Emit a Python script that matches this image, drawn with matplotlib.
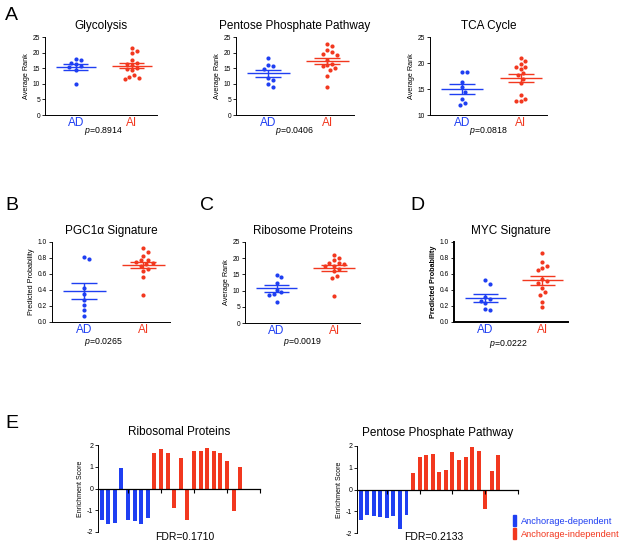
import matplotlib
matplotlib.use("Agg")
import matplotlib.pyplot as plt
import numpy as np
from matplotlib.patches import Rectangle

plt.rcParams.update({
    "font.family": ["Liberation Sans", "DejaVu Sans"],
    "axes.unicode_minus": False,
    "mathtext.fontset": "custom",
    "mathtext.it": "Liberation Sans:italic",
    "mathtext.rm": "Liberation Sans",
})

BLUE = '#1f3ff2'
RED = '#f2381f'

# Panel A: average rank per group (AD = anchorage-dependent, AI = anchorage-independent)
glyco_ad = [18.1, 17.5, 16.8, 16.2, 15.8, 15.3, 14.4, 9.8]
glyco_ai = [21.5, 20.6, 19.9, 17.6, 16.8, 16.3, 15.9, 15.2, 14.6, 14.3, 12.8, 12.3, 11.9, 11.4]
ppp_ad = [18.4, 16.0, 15.8, 14.7, 11.9, 11.2, 10.0, 9.1]
ppp_ai = [22.9, 22.0, 20.8, 20.3, 19.5, 19.3, 17.6, 16.4, 16.0, 15.6, 15.0, 14.5, 12.6, 9.1]
tca_ad = [18.3, 18.2, 16.4, 15.3, 14.5, 13.1, 12.3, 11.9]
tca_ai = [21.0, 20.3, 19.9, 19.3, 19.3, 18.9, 18.1, 17.7, 17.0, 16.2, 13.8, 13.1, 12.6, 12.6]

# Panels B-D
pgc_ad = [0.81, 0.79, 0.43, 0.35, 0.27, 0.21, 0.15, 0.08]
pgc_ai = [0.92, 0.88, 0.83, 0.78, 0.77, 0.75, 0.74, 0.72, 0.70, 0.66, 0.64, 0.56, 0.34]
ribo_ad = [14.8, 14.3, 12.5, 10.3, 9.6, 8.9, 8.7, 6.5]
ribo_ai = [20.9, 20.1, 19.3, 18.6, 18.5, 18.3, 17.7, 17.5, 16.7, 15.9, 14.6, 14.0, 8.3]
myc_ad = [0.52, 0.47, 0.31, 0.29, 0.26, 0.24, 0.16, 0.15]
myc_ai = [0.86, 0.75, 0.70, 0.68, 0.65, 0.54, 0.51, 0.49, 0.43, 0.37, 0.34, 0.25, 0.19]

p_values = ["0.8914", "0.0406", "0.0818", "0.0265", "0.0019", "0.0222"]
group_labels = ["AD", "AI"]

# Panel E: enrichment scores per cell line
ribo_es_dep = [-1.46, -1.62, -1.57, 0.92, -1.43, -1.49, -1.65, -1.35]
ribo_es_ind = [1.62, 1.82, 1.62, -0.88, 1.38, -1.43, 1.72, 1.72, 1.85, 1.74, 1.62, 1.26, -1.03, 1.00]
ppp_es_dep = [-1.38, -1.18, -1.22, -1.26, -1.32, -1.22, -1.80, -1.18]
ppp_es_ind = [0.78, 1.50, 1.58, 1.63, 0.80, 0.89, 1.71, 1.35, 1.50, 1.94, 1.77, -0.91, 0.85, 1.60]
fdr_values = ["0.1710", "0.2133"]
legend_labels = ["Anchorage-dependent", "Anchorage-independent"]

W, H = 625, 546
fig = plt.figure(figsize=(W / 100, H / 100), dpi=100)


def add_px_axes(l, t, r, b):
    return fig.add_axes([l / W, 1 - b / H, (r - l) / W, (b - t) / H])


def swarm(vals, ypx, r=2.4):
    # simple beeswarm: offsets in pixels so dots don't overlap
    vals = np.asarray(vals)
    offs = np.zeros(len(vals))
    placed = []
    for i in np.argsort(vals)[::-1]:
        y = vals[i] * ypx
        for k in range(40):
            cand = ((k + 1) // 2) * r * (1 if k % 2 else -1)
            if all((cand - px) ** 2 + (y - py) ** 2 >= (2 * r) ** 2 for px, py in placed):
                break
        offs[i] = cand
        placed.append((cand, y))
    return offs


def dot_panel(box, title, ad, ai, ylim, yticks, fmt, ylabel, ptext, p_xy,
              bold=False, spine_lw=0.7):
    l, t, r, b = box
    ax = add_px_axes(l, t, r, b)
    ax.set_xlim(0.45, 2.45)
    ax.set_ylim(*ylim)
    xpx = (r - l) / 2.0
    ypx = (b - t) / (ylim[1] - ylim[0])
    for xc, vals, col in ((1, ad, BLUE), (2, ai, RED)):
        vals = np.asarray(vals, dtype=float)
        ax.scatter(xc + swarm(vals, ypx) / xpx, vals, s=9, color=col, lw=0, zorder=3)
        m = vals.mean()
        se = vals.std(ddof=1) / np.sqrt(len(vals))
        ax.hlines(m, xc - 0.36, xc + 0.36, color=col, lw=1.0)
        ax.hlines([m - se, m + se], xc - 0.22, xc + 0.22, color=col, lw=1.0)
        ax.vlines(xc, m - se, m + se, color=col, lw=1.0)
    for s in ('top', 'right'):
        ax.spines[s].set_visible(False)
    for s in ('left', 'bottom'):
        ax.spines[s].set_linewidth(spine_lw)
    ax.set_yticks(yticks)
    ax.set_yticklabels([fmt.format(v) for v in yticks])
    ax.tick_params(axis='y', length=2.5, width=0.6, labelsize=4.8, pad=1)
    ax.set_xticks([1, 2])
    ax.set_xticklabels(group_labels, fontsize=8.5)
    for lab, col in zip(ax.get_xticklabels(), (BLUE, RED)):
        lab.set_color(col)
    ax.tick_params(axis='x', length=0, pad=1.5)
    ax.set_ylabel(ylabel, fontsize=5.2, labelpad=2,
                  fontweight='bold' if bold else 'normal')
    ax.set_title(title, fontsize=8.5, pad=6)
    fig.text(p_xy[0] / W, 1 - p_xy[1] / H, r"$p$=" + ptext, fontsize=6.3,
             ha='left', va='center')
    return ax


dot_panel((45, 37, 157, 115), "Glycolysis", glyco_ad, glyco_ai, (0, 25),
          [0, 5, 10, 15, 20, 25], "{:d}", "Average Rank", p_values[0], (84, 131))
dot_panel((236, 37, 354, 115), "Pentose Phosphate Pathway", ppp_ad, ppp_ai, (0, 25),
          [0, 5, 10, 15, 20, 25], "{:d}", "Average Rank", p_values[1], (275, 131))
dot_panel((430, 37, 547, 115), "TCA Cycle", tca_ad, tca_ai, (10, 25),
          [10, 15, 20, 25], "{:d}", "Average Rank", p_values[2], (469, 131))
dot_panel((52, 242, 170, 322), "PGC1\u03b1 Signature", pgc_ad, pgc_ai, (0, 1.0),
          [0.0, 0.2, 0.4, 0.6, 0.8, 1.0], "{:.1f}", "Predicted Probability", p_values[3],
          (84, 342))
dot_panel((245, 242, 360, 323), "Ribosome Proteins", ribo_ad, ribo_ai, (0, 25),
          [0, 5, 10, 15, 20, 25], "{:d}", "Average Rank", p_values[4], (283, 342))
dot_panel((454, 242, 568, 322), "MYC Signature", myc_ad, myc_ai, (0, 1.0),
          [0.0, 0.2, 0.4, 0.6, 0.8, 1.0], "{:.1f}", "Predicted Probability", p_values[5],
          (489, 344), bold=True, spine_lw=1.4)


def bar_panel(box, title, dep, ind, fdr, fdr_center):
    l, t, r, b = box
    ax = add_px_axes(l, t, r, b)
    vals = list(dep) + list(ind)
    idx = np.arange(len(vals))
    colors = [BLUE] * len(dep) + [RED] * len(ind)
    ax.bar(idx, vals, width=0.6, color=colors, lw=0)
    ax.set_xlim(-0.55, 24)
    ax.set_ylim(-2, 2)
    ax.spines['top'].set_visible(False)
    ax.spines['right'].set_visible(False)
    ax.spines['bottom'].set_position(('data', 0))
    ax.spines['bottom'].set_linewidth(0.9)
    ax.spines['left'].set_linewidth(0.7)
    ax.set_xticks([4, 9, 14, 19, 24])
    ax.set_xticklabels([])
    ax.tick_params(axis='x', length=3, width=0.8)
    ax.set_yticks([-2, -1, 0, 1, 2])
    ax.set_yticklabels(["-2", "-1", "0", "1", "2"])
    ax.tick_params(axis='y', length=2.5, width=0.6, labelsize=5, pad=1)
    ax.set_ylabel("Enrichment Score", fontsize=5, labelpad=2)
    ax.set_title(title, fontsize=8.5, pad=7)
    fig.text(fdr_center / W, 1 - 537 / H, "FDR=" + fdr, fontsize=7.5,
             ha='center', va='center')
    return ax


bar_panel((98, 445, 260, 532), "Ribosomal Proteins", ribo_es_dep, ribo_es_ind,
          fdr_values[0], 185)
bar_panel((357, 446, 518, 533), "Pentose Phosphate Pathway", ppp_es_dep, ppp_es_ind,
          fdr_values[1], 434)

handles = [Rectangle((0, 0), 1, 1, color=BLUE), Rectangle((0, 0), 1, 1, color=RED)]
fig.legend(handles, legend_labels, loc='center left',
           bbox_to_anchor=(508 / W, 1 - 527 / H), frameon=False,
           fontsize=6.7, labelcolor=[BLUE, RED], handlelength=0.35,
           handleheight=1.3, handletextpad=0.5, labelspacing=0.3, borderpad=0)

for letter, x, y in (("A", 5, 15), ("B", 5, 205), ("C", 200, 205),
                     ("D", 410, 205), ("E", 5, 424)):
    fig.text(x / W, 1 - y / H, letter, fontsize=14, ha='left', va='center')

fig.savefig("out.png", dpi=100)
